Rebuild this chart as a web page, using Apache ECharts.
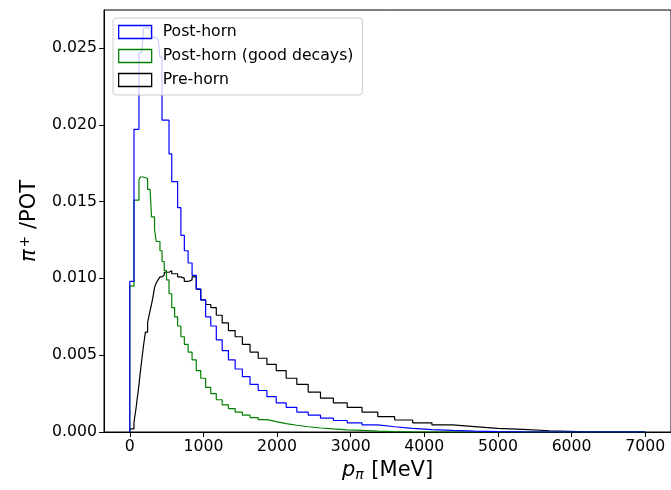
<!DOCTYPE html>
<html>
<head>
<meta charset="utf-8">
<script src="https://cdn.jsdelivr.net/npm/echarts@6/dist/echarts.min.js"></script>
<style>html,body{margin:0;padding:0;background:#fff}#c{width:671px;height:490px}</style>
</head>
<body>
<div id="c"></div>
<script>
// Histogram bin edges (MeV)
const binEdges = [0, 57, 65, 74, 84, 96, 110, 125, 143, 163, 186, 212, 242, 258, 276, 295, 315, 336, 359, 384,
  410, 438, 468, 499, 533, 570, 609, 650, 694, 741, 792, 846, 903, 964, 1030, 1100, 1175, 1255, 1340, 1431,
  1529, 1633, 1744, 1862, 1989, 2124, 2269, 2423, 2590, 2765, 2953, 3154, 3368, 3597, 3842, 4103, 4382, 4680,
  4998, 5338, 5701, 6089, 6503, 7000];

const seriesNames = ['Post-horn', 'Post-horn (good decays)', 'Pre-horn'];

// pi+/POT per bin
const postHorn = [0.0098,
  0.0197, 0.0197, 0.0197, 0.0197, 0.0197, 0.0197,
  0.0247, 0.0247, 0.0247,
  0.0263, 0.0263, 0.0262, 0.0263, 0.0262,
  0.0257, 0.0257, 0.0257, 0.0256, 0.0256,
  0.0244, 0.0203, 0.0203, 0.0203, 0.0181, 0.0163, 0.0163,
  0.0146, 0.0128, 0.0118, 0.0110, 0.0102, 0.0093, 0.0086, 0.0075, 0.0069, 0.0060,
  0.0053, 0.0047, 0.0041, 0.0036, 0.0031, 0.0027, 0.0023, 0.0019, 0.0016, 0.0013,
  0.0011, 0.0009, 0.00075, 0.0006, 0.00046, 0.00034, 0.00024, 0.00016, 0.0001, 0.00006,
  0.00003, 0.00001, 0, 0, 0, 0];

const postHornGood = [0.0095,
  0.0151, 0.0151, 0.0151, 0.0151, 0.0151, 0.0151,
  0.0164, 0.0166, 0.0166, 0.0165, 0.0165,
  0.0158, 0.0158, 0.0158, 0.0140, 0.0140, 0.0132, 0.0124, 0.0124,
  0.0118, 0.0111, 0.0105, 0.0099, 0.0090, 0.0081, 0.0075, 0.0069, 0.0062, 0.0057,
  0.0052, 0.0047, 0.0040, 0.0035, 0.0029, 0.0025, 0.0021, 0.00176, 0.00152, 0.0013,
  0.0011, 0.00094, 0.0008, 0.00067, 0.00055, 0.00044, 0.00034, 0.00026, 0.0002, 0.00014,
  0.0001, 0.00006, 0.00003, 0.00001, 0, 0, 0, 0, 0, 0, 0, 0, 0];

const preHorn = [0.0002,
  0.0006, 0.0009, 0.0012, 0.0015, 0.0020, 0.0025, 0.0031, 0.0039, 0.0047, 0.0056,
  0.0065, 0.0071, 0.0075, 0.0079, 0.0083, 0.0088, 0.0094, 0.0097, 0.0099, 0.0101,
  0.0102, 0.0104, 0.0104, 0.0105, 0.0103, 0.0103, 0.0101, 0.0100, 0.0098, 0.0099,
  0.0101, 0.0093, 0.0086, 0.0083, 0.0081, 0.0076, 0.0071, 0.0066, 0.0062, 0.0057,
  0.0052, 0.0048, 0.0044, 0.0040, 0.0035, 0.0031, 0.0026, 0.0022, 0.0019, 0.0016,
  0.0013, 0.0010, 0.00078, 0.0006, 0.00046, 0.00035, 0.00024, 0.00017, 0.00008, 0.00003,
  0.00001, 0.000005];

const xTicks = [0, 1000, 2000, 3000, 4000, 5000, 6000, 7000];
const yTicks = [0, 0.005, 0.010, 0.015, 0.020, 0.025];

const colors = ['#0000ff', '#008000', '#000000'];

function stepData(vals) {
  const d = [[binEdges[0], 0]];
  vals.forEach((v, i) => d.push([binEdges[i], v]));
  const n = vals.length;
  d.push([binEdges[n], vals[n - 1]]);
  d.push([binEdges[n], 0]);
  return d;
}

const FONT = 'DejaVu Sans';
const chart = echarts.init(document.getElementById('c'), null, {renderer: 'canvas'});
const allVals = [postHorn, postHornGood, preHorn];

chart.setOption({
  animation: false,
  backgroundColor: '#fff',
  grid: {left: 104, right: -2, top: 10, bottom: 58, show: true, borderColor: '#000', borderWidth: 1},
  legend: {
    orient: 'vertical', left: 113, top: 18,
    padding: [6, 9, 7, 5],
    itemGap: 8, itemWidth: 33, itemHeight: 13,
    backgroundColor: 'rgba(255,255,255,0.8)', borderColor: '#cccccc', borderWidth: 1, borderRadius: 3,
    textStyle: {fontFamily: FONT, fontSize: 15.7, color: '#000', padding: [0, 0, 0, 6]},
    data: seriesNames.map((n, i) => ({
      name: n, icon: 'rect',
      itemStyle: {color: 'rgba(0,0,0,0)', borderColor: colors[i], borderWidth: 1.3}
    }))
  },
  xAxis: {
    type: 'value', min: -350, max: 7350,
    name: '{i|p}{s|π} [MeV]', nameLocation: 'middle', nameGap: 24,
    nameTextStyle: {fontFamily: FONT, fontSize: 21, color: '#000',
      rich: {i: {fontFamily: FONT, fontStyle: 'italic', fontSize: 21, color: '#000'},
             s: {fontFamily: FONT, fontStyle: 'italic', fontSize: 14, color: '#000', padding: [10, 1, 0, 0]}}},
    axisLine: {show: true, onZero: false, lineStyle: {color: '#000', width: 1}},
    axisTick: {show: true, inside: false, length: 5, lineStyle: {color: '#000'}, customValues: xTicks},
    axisLabel: {fontFamily: FONT, fontSize: 15.7, color: '#000', margin: 7, customValues: xTicks,
      formatter: v => String(v)},
    splitLine: {show: false}
  },
  yAxis: {
    type: 'value', min: 0, max: 0.02747,
    name: '{n|π}{p|+} /POT', nameLocation: 'middle', nameGap: 62,
    nameTextStyle: {fontFamily: FONT, fontSize: 21, color: '#000',
      rich: {n: {fontFamily: FONT, fontStyle: 'italic', fontSize: 21, color: '#000'},
             p: {fontFamily: FONT, fontSize: 14, color: '#000', padding: [0, 0, 10, 2]}}},
    axisLine: {show: true, onZero: false, lineStyle: {color: '#000', width: 1}},
    axisTick: {show: true, inside: false, length: 5, lineStyle: {color: '#000'}, customValues: yTicks},
    axisLabel: {fontFamily: FONT, fontSize: 15.7, color: '#000', margin: 7, customValues: yTicks,
      formatter: v => v.toFixed(3)},
    splitLine: {show: false}
  },
  series: seriesNames.map((n, i) => ({
    name: n, type: 'line', step: 'end', symbol: 'none', clip: true,
    data: stepData(allVals[i]),
    lineStyle: {color: colors[i], width: 1.2},
    itemStyle: {color: colors[i]},
    z: 3 - i
  }))
});
</script>
</body>
</html>
